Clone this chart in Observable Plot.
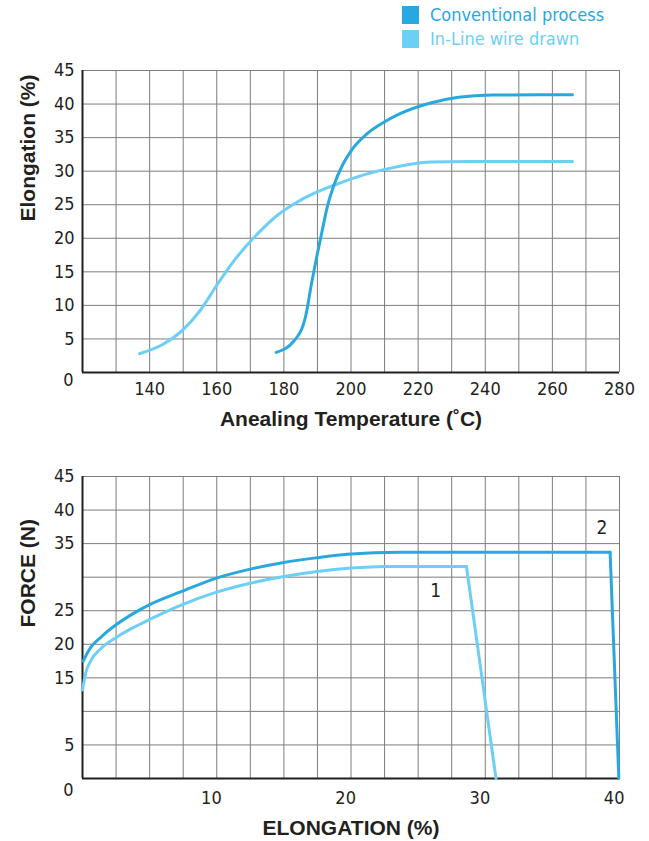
<!DOCTYPE html>
<html><head><meta charset="utf-8">
<script src="https://cdn.jsdelivr.net/npm/d3@7"></script>
<script src="https://cdn.jsdelivr.net/npm/@observablehq/plot@0.6"></script>
<style>
body{margin:0;background:#fff;}
#wrap{width:649px;position:relative;}
#legend{position:relative;height:56px;font-family:"Liberation Sans Narrow","DejaVu Sans Condensed",sans-serif;font-size:18px;}
.sw{position:absolute;left:402px;width:17px;height:18px;}
.lt{position:absolute;left:430px;line-height:18px;white-space:nowrap;}
svg{display:block}
</style></head><body>
<div id="wrap"><div id="legend"></div><div id="c1"></div><div id="c2"></div></div>
<script>
// ---- data ----
const seriesNames = ["Conventional process", "In-Line wire drawn"];
const seriesColors = ["#29a8e0", "#6dcff6"];

// Top chart: elongation vs annealing temperature
const convTemp = [177.7, 183, 186.4, 188.4, 189.9, 191.4, 192.9, 194.9, 197.4, 200.4, 204.8, 209.8, 214.8, 223.7, 232, 242, 266];
const convElong = [3.0, 4.7, 8.2, 13.7, 17.5, 21.1, 24.6, 27.9, 30.85, 33.3, 35.6, 37.3, 38.6, 40.15, 41.0, 41.35, 41.4];
const inlineTemp = [137, 144, 150, 155, 160, 164, 173, 178, 183, 189.9, 194.9, 204.8, 211.8, 223.7, 235, 266];
const inlineElong = [2.8, 4.2, 6.4, 9.2, 13.0, 15.9, 21.1, 23.4, 25.1, 26.9, 27.9, 29.6, 30.45, 31.35, 31.45, 31.45];
const tempTicks = [140, 160, 180, 200, 220, 240, 260, 280];
const elongTicks = [5, 10, 15, 20, 25, 30, 35, 40, 45];

// Bottom chart: force vs elongation
const conv2Elong = [0.45, 1.0, 1.74, 2.9, 4.2, 5.4, 7.7, 10.44, 12.9, 15.4, 17.9, 20.1, 24.1, 39.7];
const conv2Force = [17.5, 19.5, 21.0, 22.9, 24.6, 25.9, 27.8, 29.9, 31.2, 32.2, 32.9, 33.4, 33.7, 33.7];
const conv2DropElong = [39.7, 40.35];
const conv2DropForce = [33.7, 0];
const inl1Elong = [0.4, 0.65, 1.0, 1.74, 2.9, 4.2, 5.4, 7.7, 10.44, 12.9, 15.4, 17.9, 20.4, 22.9, 29.0];
const inl1Force = [13.2, 15.8, 17.5, 19.3, 21.0, 22.5, 23.7, 25.8, 27.8, 29.1, 30.1, 30.85, 31.35, 31.6, 31.6];
const inl1DropElong = [29.0, 31.2];
const inl1DropForce = [31.6, 0];
const curveLabels = ["1", "2"];
const curveLabelElong = [26.7, 39.1];
const curveLabelForce = [28.0, 37.3];
const elongPctTicks = [10, 20, 30, 40];
const forceTicks = [5, 15, 20, 25, 35, 40, 45];
const forceGrid = [5, 10, 15, 20, 25, 30, 35, 40, 45];

// ---- helpers ----
const narrow = '"Liberation Sans Narrow","DejaVu Sans Condensed",sans-serif';
const bold = '"Liberation Sans",Arial,sans-serif';
const ink = "#231f20";
const gridC = "#7d7d7d";
const zip = (xs, ys) => xs.map((x, i) => ({x, y: ys[i]}));

// legend
const leg = document.getElementById("legend");
seriesNames.forEach((n, i) => {
  const top = 6 + i * 24;
  const s = document.createElement("div");
  s.className = "sw"; s.style.top = top + "px"; s.style.background = seriesColors[i];
  const t = document.createElement("div");
  t.className = "lt"; t.style.top = top + "px"; t.style.color = seriesColors[i]; t.textContent = n;
  leg.appendChild(s); leg.appendChild(t);
});

// ---- top chart ----
const tempGrid = d3.range(130, 281, 10);
const chart1 = Plot.plot({
  width: 649, height: 384,
  marginTop: 14, marginBottom: 68, marginLeft: 82, marginRight: 30,
  style: {background: "#fff", overflow: "visible"},
  x: {domain: [120, 280], axis: null},
  y: {domain: [0, 45], axis: null},
  marks: [
    Plot.ruleX(tempGrid, {stroke: gridC, strokeWidth: 1}),
    Plot.ruleY(elongTicks, {stroke: gridC, strokeWidth: 1}),
    Plot.ruleX([120], {stroke: ink, strokeWidth: 2}),
    Plot.ruleY([0], {stroke: ink, strokeWidth: 2}),
    Plot.line(zip(inlineTemp, inlineElong), {x: "x", y: "y", stroke: seriesColors[1], strokeWidth: 3, curve: "monotone-x"}),
    Plot.line(zip(convTemp, convElong), {x: "x", y: "y", stroke: seriesColors[0], strokeWidth: 3, curve: "monotone-x"}),
    Plot.text(tempTicks, {x: d => d, y: 0, text: d => String(d), dy: 17, fontSize: 18, fontFamily: narrow, fill: ink}),
    Plot.text(elongTicks, {x: 120, y: d => d, text: d => String(d), dx: -8, textAnchor: "end", fontSize: 18, fontFamily: narrow, fill: ink}),
    Plot.text(["0"], {x: 120, y: 0, text: d => d, dx: -9, dy: 8, textAnchor: "end", fontSize: 18, fontFamily: narrow, fill: ink}),
    Plot.text(["Anealing Temperature (\u02DAC)"], {frameAnchor: "bottom", dy: 47, lineAnchor: "middle", text: d => d, fontSize: 21, fontWeight: "bold", fontFamily: bold, fill: ink}),
    Plot.text(["Elongation (%)"], {frameAnchor: "left", dx: -54, rotate: -90, lineAnchor: "middle", text: d => d, fontSize: 21, fontWeight: "bold", fontFamily: bold, fill: ink})
  ]
});
document.getElementById("c1").appendChild(chart1);

// ---- bottom chart ----
const elongGrid = d3.range(1, 17).map(k => 0.4 + 2.5 * k);
const chart2 = Plot.plot({
  width: 649, height: 401,
  marginTop: 36, marginBottom: 63, marginLeft: 82, marginRight: 30,
  style: {background: "#fff", overflow: "visible"},
  x: {domain: [0.4, 40.4], axis: null},
  y: {domain: [0, 45], axis: null},
  marks: [
    Plot.ruleX(elongGrid, {stroke: gridC, strokeWidth: 1}),
    Plot.ruleY(forceGrid, {stroke: gridC, strokeWidth: 1}),
    Plot.ruleX([0.4], {stroke: ink, strokeWidth: 2}),
    Plot.ruleY([0], {stroke: ink, strokeWidth: 2}),
    Plot.line(zip(inl1Elong, inl1Force), {x: "x", y: "y", stroke: seriesColors[1], strokeWidth: 3, curve: "monotone-x"}),
    Plot.line(zip(inl1DropElong, inl1DropForce), {x: "x", y: "y", stroke: seriesColors[1], strokeWidth: 3}),
    Plot.line(zip(conv2Elong, conv2Force), {x: "x", y: "y", stroke: seriesColors[0], strokeWidth: 3, curve: "monotone-x"}),
    Plot.line(zip(conv2DropElong, conv2DropForce), {x: "x", y: "y", stroke: seriesColors[0], strokeWidth: 3}),
    Plot.text(curveLabels, {x: (d, i) => curveLabelElong[i], y: (d, i) => curveLabelForce[i], text: d => d, fontSize: 19, fontFamily: narrow, fill: ink}),
    Plot.text(elongPctTicks, {x: d => d, y: 0, text: d => String(d), dy: 20, fontSize: 18, fontFamily: narrow, fill: ink}),
    Plot.text(forceTicks, {x: 0.4, y: d => d, text: d => String(d), dx: -8, textAnchor: "end", fontSize: 18, fontFamily: narrow, fill: ink}),
    Plot.text(["0"], {x: 0.4, y: 0, text: d => d, dx: -9, dy: 12, textAnchor: "end", fontSize: 18, fontFamily: narrow, fill: ink}),
    Plot.text(["ELONGATION (%)"], {frameAnchor: "bottom", dy: 50, lineAnchor: "middle", text: d => d, fontSize: 21, fontWeight: "bold", fontFamily: bold, fill: ink}),
    Plot.text(["FORCE (N)"], {frameAnchor: "left", dx: -54, rotate: -90, lineAnchor: "middle", text: d => d, fontSize: 21, fontWeight: "bold", fontFamily: bold, fill: ink})
  ]
});
document.getElementById("c2").appendChild(chart2);
</script>
</body></html>
